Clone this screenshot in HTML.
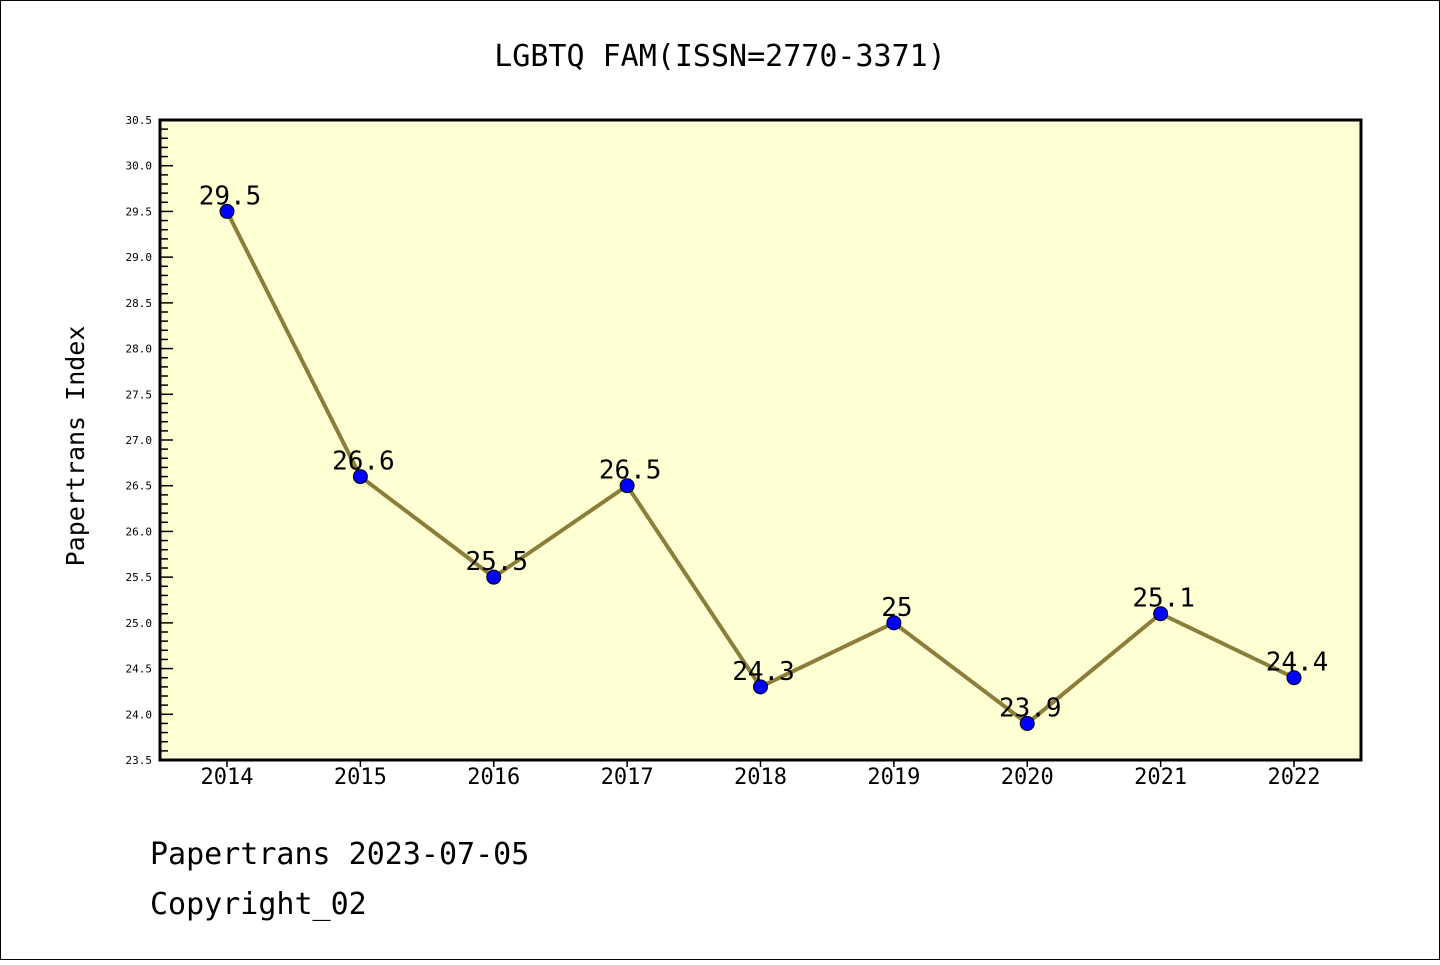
<!DOCTYPE html>
<html><head><meta charset="utf-8"><style>
html,body{margin:0;padding:0;background:#fff}
svg text{font-family:"WenQuanYi Zen Hei","DejaVu Sans Mono",monospace}
</style></head><body>
<svg width="1440" height="960" xmlns="http://www.w3.org/2000/svg">
<rect x="0.5" y="0.5" width="1439" height="959" fill="#fff" stroke="#000"/>
<text x="720" y="66" font-size="30" text-anchor="middle">LGBTQ FAM(ISSN=2770-3371)</text>
<rect x="160" y="120" width="1201" height="640" fill="#ffffd4"/>
<g id="yaxis"></g>
<g id="xaxis"></g>
<g id="series"></g>
<rect x="160" y="120" width="1201" height="640" fill="none" stroke="#000" stroke-width="3"/>
<text transform="translate(84,446) rotate(-90)" font-size="25" text-anchor="middle">Papertrans Index</text>
<text x="150" y="864" font-size="30">Papertrans 2023-07-05</text>
<text x="150" y="914" font-size="30">Copyright_02</text>
</svg>
<script>
const years=[2014,2015,2016,2017,2018,2019,2020,2021,2022];
const values=[29.5,26.6,25.5,26.5,24.3,25.0,23.9,25.1,24.4];
const valueLabels=["29.5","26.6","25.5","26.5","24.3","25","23.9","25.1","24.4"];
const yTicks=["23.5","24.0","24.5","25.0","25.5","26.0","26.5","27.0","27.5","28.0","28.5","29.0","29.5","30.0","30.5"];
const NS="http://www.w3.org/2000/svg";
const yMin=23.5,yMax=30.5,yTop=120,yBot=760;
const y=v=>yBot-(v-yMin)/(yMax-yMin)*(yBot-yTop);
const x=i=>227+i*(1294-227)/(years.length-1);
function mk(tag,attrs,parent){const e=document.createElementNS(NS,tag);for(const k in attrs)e.setAttribute(k,attrs[k]);parent.appendChild(e);return e;}
const ya=document.getElementById('yaxis'),xa=document.getElementById('xaxis'),sg=document.getElementById('series');
for(let k=0;k<=70;k++){const v=yMin+k*0.1;const major=k%5===0;
 const t=mk('line',{x1:160,x2:160+(major?13:8),y1:y(v),y2:y(v),stroke:'#000','stroke-width':1.5},ya);
 
 }
yTicks.forEach(s=>{const t=mk('text',{x:152,y:y(parseFloat(s))+4,'font-size':11,'text-anchor':'end'},ya);t.textContent=s;
 
 });
years.forEach((yr,i)=>{const l=mk('line',{x1:x(i),x2:x(i),y1:760,y2:767,stroke:'#000','stroke-width':1.5},xa);
 
 
 const t=mk('text',{x:x(i),y:784,'font-size':22,'text-anchor':'middle'},xa);t.textContent=yr;
 
 });
const pl=mk('polyline',{points:values.map((v,i)=>x(i)+','+y(v)).join(' '),fill:'none',stroke:'#8b7d3a','stroke-width':4},sg);


values.forEach((v,i)=>{const c=mk('circle',{cx:x(i),cy:y(v),r:7,fill:'#0000ff',stroke:'#000','stroke-width':1},sg);
 
 
 const t=mk('text',{x:x(i)+3,y:y(v)-7,'font-size':26,'text-anchor':'middle'},sg);t.textContent=valueLabels[i];
 
 });
</script>
</body></html>
